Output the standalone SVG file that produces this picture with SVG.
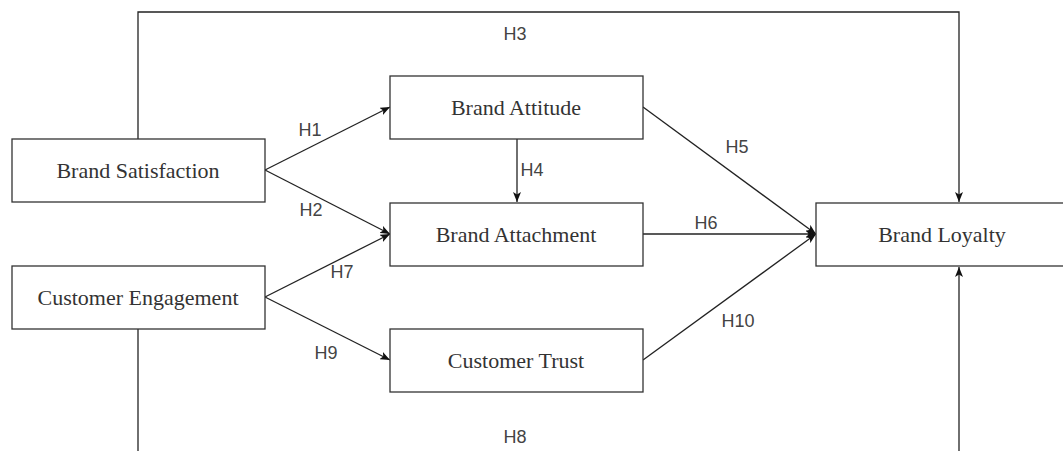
<svg xmlns="http://www.w3.org/2000/svg" width="1063" height="451" viewBox="0 0 1063 451">
<style>
.box{fill:#fff;stroke:#333;stroke-width:1.3}
.nt{font-family:"Liberation Serif","Times New Roman",serif;font-size:22px;fill:#333;text-anchor:middle;dominant-baseline:central}
.lb{font-family:"Liberation Sans",Arial,sans-serif;font-size:18px;fill:#444;text-anchor:middle;dominant-baseline:central}
.ed{fill:none;stroke:#222;stroke-width:1.3}
</style>
<defs>
<marker id="ah" viewBox="0 0 10 8" refX="10" refY="4" markerWidth="10" markerHeight="8" markerUnits="userSpaceOnUse" orient="auto">
<path d="M0,0 L10,4 L0,8 L2.5,4 z" fill="#111"/>
</marker>
</defs>
<g id="connectors">
<path class="ed" d="M138,139 V12 H959 V202" marker-end="url(#ah)"/>
<path class="ed" d="M138,329 V451"/>
<path class="ed" d="M959,451 V267" marker-end="url(#ah)"/>
<path class="ed" d="M265,170 L390,107" marker-end="url(#ah)"/>
<path class="ed" d="M265,170 L390,234" marker-end="url(#ah)"/>
<path class="ed" d="M265,297 L390,234" marker-end="url(#ah)"/>
<path class="ed" d="M265,297 L390,360" marker-end="url(#ah)"/>
<path class="ed" d="M517,139 V202" marker-end="url(#ah)"/>
<path class="ed" d="M643,107 L816,234" marker-end="url(#ah)"/>
<path class="ed" d="M643,234 L816,234" marker-end="url(#ah)"/>
<path class="ed" d="M643,360 L816,234" marker-end="url(#ah)"/>
<text class="lb" x="515" y="34">H3</text>
<text class="lb" x="515" y="437">H8</text>
<text class="lb" x="310" y="130">H1</text>
<text class="lb" x="311" y="210">H2</text>
<text class="lb" x="342" y="272">H7</text>
<text class="lb" x="326" y="353">H9</text>
<text class="lb" x="532" y="170">H4</text>
<text class="lb" x="737" y="147">H5</text>
<text class="lb" x="706" y="223">H6</text>
<text class="lb" x="738" y="321">H10</text>
</g>
<g id="brand-satisfaction"><rect class="box" x="12" y="139" width="253" height="63"/><text class="nt" x="138" y="170">Brand Satisfaction</text></g>
<g id="customer-engagement"><rect class="box" x="12" y="266" width="253" height="63"/><text class="nt" x="138" y="297">Customer Engagement</text></g>
<g id="brand-attitude"><rect class="box" x="390" y="76" width="253" height="63"/><text class="nt" x="516" y="107">Brand Attitude</text></g>
<g id="brand-attachment"><rect class="box" x="390" y="203" width="253" height="63"/><text class="nt" x="516" y="234">Brand Attachment</text></g>
<g id="customer-trust"><rect class="box" x="390" y="329" width="253" height="63"/><text class="nt" x="516" y="360">Customer Trust</text></g>
<g id="brand-loyalty"><rect class="box" x="816" y="203" width="253" height="63"/><text class="nt" x="942" y="234">Brand Loyalty</text></g>
</svg>
